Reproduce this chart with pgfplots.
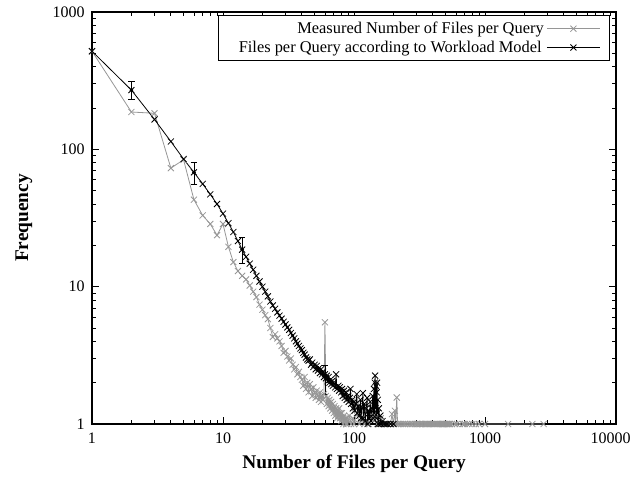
\documentclass[border=0pt]{standalone}
\usepackage{fontspec}
\setmainfont{Liberation Serif}
\usepackage{pgfplots}
\pgfplotsset{compat=1.18}

\definecolor{measgray}{RGB}{150,150,150}

\begin{document}
\begin{tikzpicture}
\useasboundingbox (0,0) rectangle (473.25pt,358.5pt);
\begin{axis}[%
at={(69pt,40.5pt)},
anchor=south west,
width=393pt,
height=309pt,
scale only axis,
xmode=log,
ymode=log,
xmin=1, xmax=10000,
ymin=1, ymax=1000,
xtick={1,10,100,1000,10000},
xticklabels={\textrm{1},\textrm{10},\textrm{100},\textrm{1000},\textrm{\hspace*{-8pt}10000}},
ytick={1,10,100,1000},
yticklabels={\textrm{1},\textrm{10},\textrm{100},\textrm{1000}},
tick align=inside,
major tick length=5pt,
minor tick length=3pt,
axis line style={line width=0.8pt},
tick style={black, line width=0.6pt},
ticklabel style={font=\fontsize{12}{14}\selectfont},
xticklabel style={yshift=-3pt},
yticklabel style={xshift=-2pt},
xlabel={\textbf{Number of Files per Query}},
ylabel={\textbf{Frequency}},
label style={font=\fontsize{14.5}{16}\selectfont},
xlabel style={at={(axis description cs:0.5,-0.097)}, anchor=center},
ylabel style={at={(axis description cs:-0.13,0.5)}, anchor=center, rotate=0},
clip=false,
legend cell align=right,
legend plot pos=right,
legend image code/.code={\draw[mark repeat=2,mark phase=2,#1] plot coordinates {(0pt,0pt) (20pt,0pt) (40pt,0pt)};},
legend style={at={(0.989,0.993)}, anchor=north east, draw=black, line width=0.6pt,
  font=\fontsize{12.3}{13}\selectfont, row sep=0pt, inner xsep=7pt, inner ysep=3pt},
]

% measured
\addplot [color=measgray, line width=0.6pt, mark=x, mark size=3.2pt]
table[row sep=crcr]{
1 518\\
2 187\\
3 183\\
4 73\\
5 84\\
6 43\\
7 33\\
8 28.6\\
9 23.7\\
10 28.6\\
11 19.5\\
12 15.1\\
13 13\\
14 12\\
15 11.3\\
16 10.2\\
17 9.2\\
18 8.4\\
19 7.4\\
20 6.8\\
21 6.2\\
22 5.8\\
23 5.0\\
24 4.3\\
25 4.5\\
26 4.2\\
27 4.0\\
28 3.7\\
29 3.3\\
30 3.4\\
31 3.1\\
32 2.9\\
33 3.0\\
34 2.7\\
35 2.5\\
36 2.6\\
37 2.3\\
38 2.4\\
39 2.2\\
40 2.1\\
41 1.9\\
42 2.2\\
43 1.8\\
44 2.0\\
45 1.7\\
46 1.95\\
47 1.8\\
48 1.6\\
49 1.85\\
50 1.7\\
51 1.55\\
52 1.75\\
53 1.6\\
54 1.5\\
55 1.7\\
56 1.45\\
57 1.6\\
58 1.5\\
59 1.65\\
60 5.5\\
61 1.6\\
62 1.4\\
63 1.55\\
64 1.35\\
65 1.5\\
66 1.3\\
67 1.45\\
68 1.25\\
69 1.4\\
70 1.2\\
71 1.35\\
72 1.15\\
73 1.3\\
74 1.1\\
75 1.25\\
76 1.15\\
77 1.3\\
78 1.1\\
79 1.2\\
80 1.05\\
81 1.2\\
82 1.1\\
83 1.0\\
84 1.15\\
85 1.05\\
86 1.1\\
87 1.0\\
88 1.1\\
89 1.0\\
90 1.05\\
92 1.15\\
95 1.0\\
98 1.1\\
100 1.0\\
105 1.2\\
110 1.0\\
115 1.1\\
120 1.0\\
125 1.3\\
130 1.0\\
140 1.15\\
150 1.0\\
160 1.1\\
170 1.0\\
180 1.0\\
190 1.0\\
195 1.18\\
200 1.0\\
205 1.25\\
208 1.0\\
212 1.56\\
215 1.0\\
220 1\\ 228 1\\ 236 1\\ 244 1\\ 252 1\\ 260 1\\ 268 1\\ 276 1\\ 284 1\\ 292 1\\
300 1\\ 308 1\\ 316 1\\ 324 1\\ 332 1\\ 340 1\\ 348 1\\ 356 1\\ 364 1\\ 372 1\\
380 1\\ 388 1\\ 396 1\\ 404 1\\ 412 1\\ 420 1\\ 428 1\\ 436 1\\ 444 1\\ 452 1\\
460 1\\ 468 1\\ 476 1\\ 484 1\\ 492 1\\ 500 1\\ 508 1\\ 516 1\\ 524 1\\ 532 1\\
540 1\\ 560 1\\ 590 1\\ 610 1\\ 640 1\\ 680 1\\ 700 1\\ 730 1\\ 760 1\\ 800 1\\
850 1\\ 900 1\\ 1000 1\\ 1500 1\\ 2300 1\\ 2800 1\\
};
\addlegendentry{Measured Number of Files per Query}

% model
\addplot [color=black, line width=0.6pt, mark=x, mark size=3.2pt]
table[row sep=crcr]{
1 518\\
2 270\\
3 165\\
4 114\\
5 85\\
6 68\\
7 56\\
8 47\\
9 40\\
10 34\\
11 29\\
12 25\\
13 21.5\\
14 18.6\\
15 16.5\\
16 14.7\\
17 13.3\\
18 12.0\\
19 10.9\\
20 10.0\\
21 9.2\\
22 8.5\\
23 7.8\\
24 7.3\\
25 6.9\\
26 6.5\\
27 6.15\\
28 5.85\\
29 5.55\\
30 5.3\\
31 5.05\\
32 4.85\\
33 4.6\\
34 4.4\\
35 4.2\\
36 4.0\\
37 3.85\\
38 3.7\\
39 3.55\\
40 3.45\\
41 3.3\\
42 3.2\\
43 3.05\\
44 2.95\\
45 2.89\\
46 2.95\\
47 2.7\\
48 2.8\\
49 2.6\\
50 2.7\\
51 2.5\\
52 2.65\\
53 2.45\\
54 2.55\\
55 2.35\\
56 2.5\\
57 2.3\\
58 2.4\\
59 2.2\\
60 2.3\\
61 2.15\\
62 2.25\\
63 2.05\\
64 2.2\\
65 2.0\\
66 2.1\\
67 1.95\\
68 2.05\\
69 1.9\\
70 2.0\\
72 1.85\\
73 2.3\\
74 1.8\\
76 1.9\\
77 1.75\\
78 1.85\\
80 1.7\\
81 1.8\\
82 1.6\\
84 1.75\\
85 1.55\\
87 1.7\\
88 1.5\\
90 1.6\\
91 1.45\\
93 1.55\\
94 1.8\\
95 1.4\\
97 1.5\\
98 1.3\\
100 1.45\\
101 1.25\\
103 1.4\\
105 1.65\\
106 1.2\\
108 1.35\\
110 1.15\\
112 1.5\\
113 1.1\\
115 1.3\\
117 1.68\\
118 1.1\\
120 1.4\\
122 1.05\\
124 1.3\\
126 1.55\\
127 1.0\\
129 1.25\\
131 1.1\\
133 1.45\\
135 1.05\\
137 1.3\\
139 1.6\\
140 1.1\\
142 1.8\\
143 1.2\\
144 2.0\\
145 2.25\\
146 1.3\\
147 1.9\\
148 1.1\\
149 1.7\\
150 2.0\\
151 1.2\\
152 1.5\\
153 1.0\\
155 1.3\\
157 1.0\\
159 1.15\\
161 1.0\\
165 1.05\\
170 1.0\\
175 1.0\\
180 1.0\\
190 1.0\\
200 1.0\\
};
\addlegendentry{\hspace*{6pt}Files per Query according to Workload Model\hspace*{1.5pt}}

% error bars of the model
\addplot [black, only marks, mark=*, mark size=1.2pt, forget plot,
  error bars/.cd, y dir=both, y explicit,
  error bar style={line width=0.6pt},
  error mark options={black, rotate=90, mark size=2.5pt, line width=0.6pt}]
coordinates {
(2,270) += (0,40) -= (0,40)
(6,68) += (0,12) -= (0,12.4)
(14,18.6) += (0,4.2) -= (0,3.8)
(60,2.25) += (0,0.4) -= (0,0.6)
};

\end{axis}
\end{tikzpicture}
\end{document}
